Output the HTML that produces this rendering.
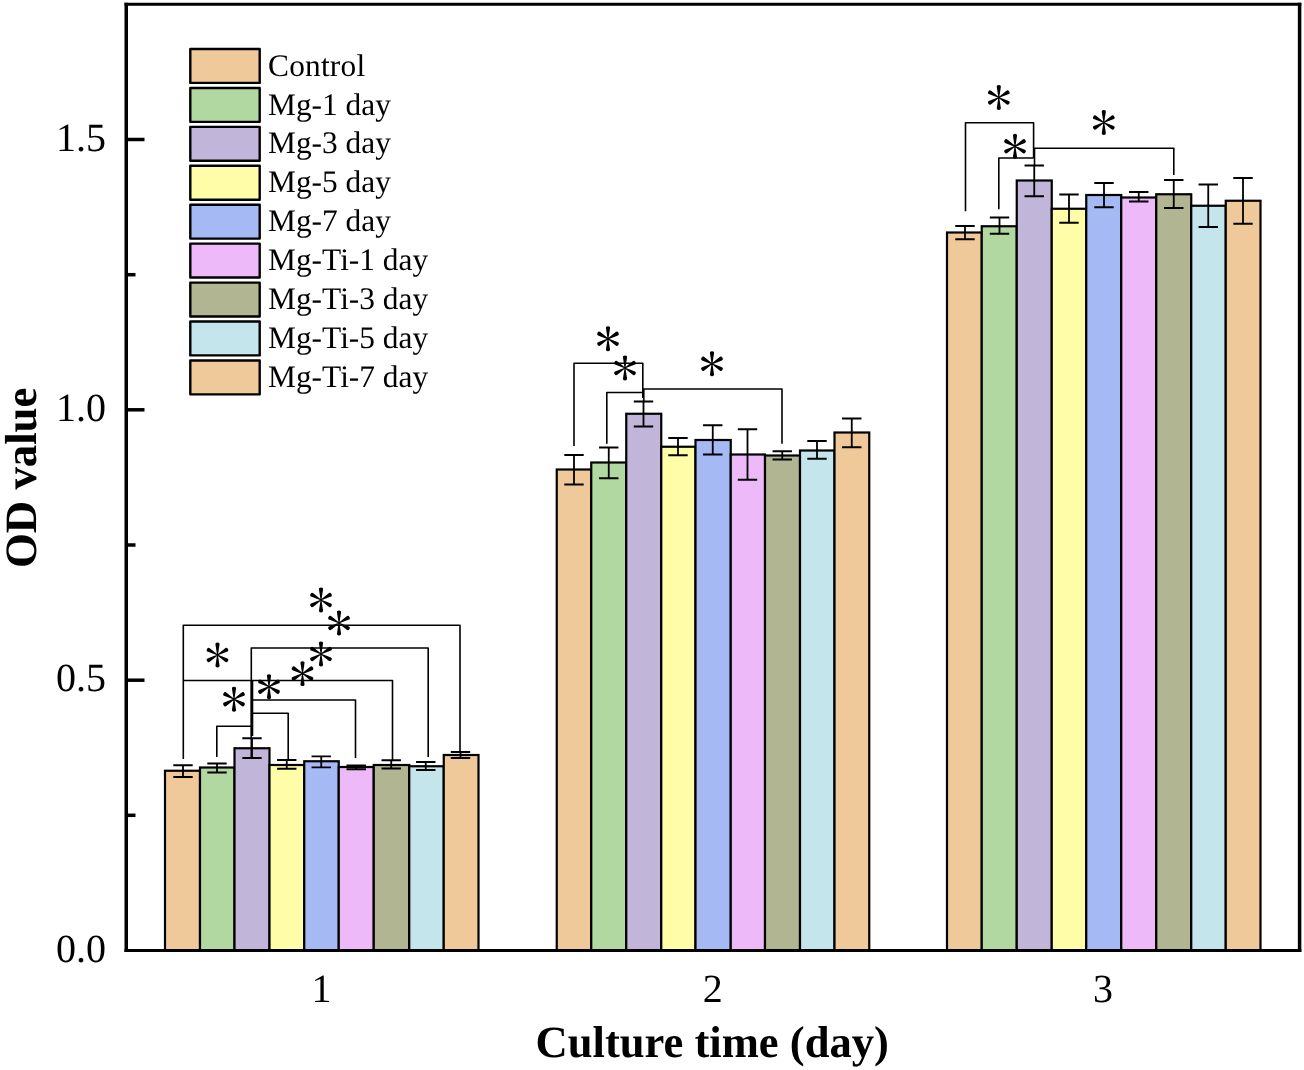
<!DOCTYPE html>
<html><head><meta charset="utf-8"><title>OD value chart</title>
<style>
html,body{margin:0;padding:0;background:#fff;}
body{width:1304px;height:1070px;overflow:hidden;font-family:"Liberation Serif",serif;}
svg{display:block;will-change:transform;}
text{font-family:"Liberation Serif",serif;fill:#000;text-rendering:geometricPrecision;}
.b{font-weight:bold;}
</style></head><body>
<svg width="1304" height="1070" viewBox="0 0 1304 1070">
<rect x="0" y="0" width="1304" height="1070" fill="#fff"/>
<g stroke="#000" stroke-width="2.2" stroke-linejoin="miter">
<rect x="165" y="770.75" width="35.00" height="179.75" fill="#F0C99A"/>
<rect x="200" y="767.5" width="34.50" height="183.00" fill="#B0D8A0"/>
<rect x="234.5" y="748.25" width="35.00" height="202.25" fill="#C1B5D9"/>
<rect x="269.5" y="765" width="34.75" height="185.50" fill="#FFFDA8"/>
<rect x="304.25" y="761.25" width="34.50" height="189.25" fill="#A5B9F4"/>
<rect x="338.75" y="767" width="35.00" height="183.50" fill="#EDB9F9"/>
<rect x="373.75" y="765" width="35.50" height="185.50" fill="#B1B592"/>
<rect x="409.25" y="766.25" width="34.50" height="184.25" fill="#C5E5EC"/>
<rect x="443.75" y="755" width="34.75" height="195.50" fill="#F0C99A"/>
<rect x="556.75" y="469.5" width="34.50" height="481.00" fill="#F0C99A"/>
<rect x="591.25" y="462.5" width="35.00" height="488.00" fill="#B0D8A0"/>
<rect x="626.25" y="413.75" width="35.00" height="536.75" fill="#C1B5D9"/>
<rect x="661.25" y="446.75" width="34.25" height="503.75" fill="#FFFDA8"/>
<rect x="695.5" y="440" width="35.25" height="510.50" fill="#A5B9F4"/>
<rect x="730.75" y="454.5" width="34.25" height="496.00" fill="#EDB9F9"/>
<rect x="765" y="455.5" width="35.00" height="495.00" fill="#B1B592"/>
<rect x="800" y="450.5" width="34.50" height="500.00" fill="#C5E5EC"/>
<rect x="834.5" y="432.5" width="34.75" height="518.00" fill="#F0C99A"/>
<rect x="947" y="232.5" width="34.75" height="718.00" fill="#F0C99A"/>
<rect x="981.75" y="226.25" width="35.00" height="724.25" fill="#B0D8A0"/>
<rect x="1016.75" y="180.5" width="35.00" height="770.00" fill="#C1B5D9"/>
<rect x="1051.75" y="208.75" width="34.50" height="741.75" fill="#FFFDA8"/>
<rect x="1086.25" y="195" width="35.00" height="755.50" fill="#A5B9F4"/>
<rect x="1121.25" y="197.5" width="35.00" height="753.00" fill="#EDB9F9"/>
<rect x="1156.25" y="194.25" width="35.00" height="756.25" fill="#B1B592"/>
<rect x="1191.25" y="205.75" width="34.50" height="744.75" fill="#C5E5EC"/>
<rect x="1225.75" y="200.75" width="34.75" height="749.75" fill="#F0C99A"/>
</g>
<g stroke="#000" stroke-width="1.8" fill="none">
<path d="M183 765.25V777M173.3 765.25H192.7M173.3 777H192.7"/>
<path d="M217 763.5V772.5M207.3 763.5H226.7M207.3 772.5H226.7"/>
<path d="M252 738.25V758M242.3 738.25H261.7M242.3 758H261.7"/>
<path d="M286.75 760V768.75M277.05 760H296.45M277.05 768.75H296.45"/>
<path d="M321.25 756.3V767.3M311.55 756.3H330.95M311.55 767.3H330.95"/>
<path d="M356.25 765.5V769.25M346.55 765.5H365.95M346.55 769.25H365.95"/>
<path d="M391.25 760.25V768.5M381.55 760.25H400.95M381.55 768.5H400.95"/>
<path d="M425.75 762V770M416.05 762H435.45M416.05 770H435.45"/>
<path d="M460.5 752V758M450.8 752H470.2M450.8 758H470.2"/>
<path d="M574 455V484.5M564.3 455H583.7M564.3 484.5H583.7"/>
<path d="M608.75 447.5V478.25M599.05 447.5H618.45M599.05 478.25H618.45"/>
<path d="M643.5 401.5V426.5M633.8 401.5H653.2M633.8 426.5H653.2"/>
<path d="M678 438V455.25M668.3 438H687.7M668.3 455.25H687.7"/>
<path d="M712.75 425.25V454.5M703.05 425.25H722.45M703.05 454.5H722.45"/>
<path d="M747.5 429.25V479.75M737.8 429.25H757.2M737.8 479.75H757.2"/>
<path d="M782.25 451.25V459.5M772.55 451.25H791.95M772.55 459.5H791.95"/>
<path d="M817 441V458.75M807.3 441H826.7M807.3 458.75H826.7"/>
<path d="M851.75 418.5V447.25M842.05 418.5H861.45M842.05 447.25H861.45"/>
<path d="M965 226V239.25M955.3 226H974.7M955.3 239.25H974.7"/>
<path d="M999.5 217.5V233.75M989.8 217.5H1009.2M989.8 233.75H1009.2"/>
<path d="M1034.25 165.5V196.25M1024.55 165.5H1043.95M1024.55 196.25H1043.95"/>
<path d="M1069 194.5V222.75M1059.3 194.5H1078.7M1059.3 222.75H1078.7"/>
<path d="M1104 183V207.25M1094.3 183H1113.7M1094.3 207.25H1113.7"/>
<path d="M1138.75 192V201.5M1129.05 192H1148.45M1129.05 201.5H1148.45"/>
<path d="M1173.75 180V208M1164.05 180H1183.45M1164.05 208H1183.45"/>
<path d="M1208.25 184.5V227M1198.55 184.5H1217.95M1198.55 227H1217.95"/>
<path d="M1243 178V223.75M1233.3 178H1252.7M1233.3 223.75H1252.7"/>
</g>
<g stroke="#000" stroke-width="1.6" fill="none" stroke-linejoin="round">
<path d="M183.3 759V625.3H460V752"/>
<path d="M183.3 680.5H392.5V760"/>
<path d="M251.3 759V648H428.2V757"/>
<path d="M251.3 700H355.5V758"/>
<path d="M251.3 713.3H288.2V760"/>
<path d="M216.8 757V726.2H251.3"/>
<path d="M574 446V363.3H642.8V398"/>
<path d="M606.8 443.8V392.5H643"/>
<path d="M643.8 401V389H782V443.8"/>
<path d="M965.5 211.3V122.8H1033.6V158"/>
<path d="M998.8 209.3V158H1033.6"/>
<path d="M1034.5 165V148.3H1173.8V175"/>
</g>
<path d="M252 680V736" stroke="#000" stroke-width="2.6" fill="none"/>
<g fill="#000" stroke="none">
<path transform="translate(321 600)" d="M-0.35 0.60L-1.96 -10.05A2.0 2.0 0 1 1 1.96 -10.05L0.35 0.60ZM0.35 -0.60L1.96 10.05A2.0 2.0 0 1 1 -1.96 10.05L-0.35 -0.60ZM-0.69 -0.00L7.38 -6.52A2.0 2.0 0 1 1 9.34 -3.13L-0.34 0.60ZM-0.34 -0.60L9.34 3.13A2.0 2.0 0 1 1 7.38 6.52L-0.69 0.00ZM0.69 0.00L-7.38 6.52A2.0 2.0 0 1 1 -9.34 3.13L0.34 -0.60ZM0.34 0.60L-9.34 -3.13A2.0 2.0 0 1 1 -7.38 -6.52L0.69 -0.00Z"/>
<path transform="translate(339 623)" d="M-0.35 0.60L-1.96 -10.05A2.0 2.0 0 1 1 1.96 -10.05L0.35 0.60ZM0.35 -0.60L1.96 10.05A2.0 2.0 0 1 1 -1.96 10.05L-0.35 -0.60ZM-0.69 -0.00L7.38 -6.52A2.0 2.0 0 1 1 9.34 -3.13L-0.34 0.60ZM-0.34 -0.60L9.34 3.13A2.0 2.0 0 1 1 7.38 6.52L-0.69 0.00ZM0.69 0.00L-7.38 6.52A2.0 2.0 0 1 1 -9.34 3.13L0.34 -0.60ZM0.34 0.60L-9.34 -3.13A2.0 2.0 0 1 1 -7.38 -6.52L0.69 -0.00Z"/>
<path transform="translate(217.5 655)" d="M-0.35 0.60L-1.96 -10.05A2.0 2.0 0 1 1 1.96 -10.05L0.35 0.60ZM0.35 -0.60L1.96 10.05A2.0 2.0 0 1 1 -1.96 10.05L-0.35 -0.60ZM-0.69 -0.00L7.38 -6.52A2.0 2.0 0 1 1 9.34 -3.13L-0.34 0.60ZM-0.34 -0.60L9.34 3.13A2.0 2.0 0 1 1 7.38 6.52L-0.69 0.00ZM0.69 0.00L-7.38 6.52A2.0 2.0 0 1 1 -9.34 3.13L0.34 -0.60ZM0.34 0.60L-9.34 -3.13A2.0 2.0 0 1 1 -7.38 -6.52L0.69 -0.00Z"/>
<path transform="translate(321 654)" d="M-0.35 0.60L-1.96 -10.05A2.0 2.0 0 1 1 1.96 -10.05L0.35 0.60ZM0.35 -0.60L1.96 10.05A2.0 2.0 0 1 1 -1.96 10.05L-0.35 -0.60ZM-0.69 -0.00L7.38 -6.52A2.0 2.0 0 1 1 9.34 -3.13L-0.34 0.60ZM-0.34 -0.60L9.34 3.13A2.0 2.0 0 1 1 7.38 6.52L-0.69 0.00ZM0.69 0.00L-7.38 6.52A2.0 2.0 0 1 1 -9.34 3.13L0.34 -0.60ZM0.34 0.60L-9.34 -3.13A2.0 2.0 0 1 1 -7.38 -6.52L0.69 -0.00Z"/>
<path transform="translate(302.5 673.6)" d="M-0.35 0.60L-1.96 -10.05A2.0 2.0 0 1 1 1.96 -10.05L0.35 0.60ZM0.35 -0.60L1.96 10.05A2.0 2.0 0 1 1 -1.96 10.05L-0.35 -0.60ZM-0.69 -0.00L7.38 -6.52A2.0 2.0 0 1 1 9.34 -3.13L-0.34 0.60ZM-0.34 -0.60L9.34 3.13A2.0 2.0 0 1 1 7.38 6.52L-0.69 0.00ZM0.69 0.00L-7.38 6.52A2.0 2.0 0 1 1 -9.34 3.13L0.34 -0.60ZM0.34 0.60L-9.34 -3.13A2.0 2.0 0 1 1 -7.38 -6.52L0.69 -0.00Z"/>
<path transform="translate(269 686.7)" d="M-0.35 0.60L-1.96 -10.05A2.0 2.0 0 1 1 1.96 -10.05L0.35 0.60ZM0.35 -0.60L1.96 10.05A2.0 2.0 0 1 1 -1.96 10.05L-0.35 -0.60ZM-0.69 -0.00L7.38 -6.52A2.0 2.0 0 1 1 9.34 -3.13L-0.34 0.60ZM-0.34 -0.60L9.34 3.13A2.0 2.0 0 1 1 7.38 6.52L-0.69 0.00ZM0.69 0.00L-7.38 6.52A2.0 2.0 0 1 1 -9.34 3.13L0.34 -0.60ZM0.34 0.60L-9.34 -3.13A2.0 2.0 0 1 1 -7.38 -6.52L0.69 -0.00Z"/>
<path transform="translate(234 699.2)" d="M-0.35 0.60L-1.96 -10.05A2.0 2.0 0 1 1 1.96 -10.05L0.35 0.60ZM0.35 -0.60L1.96 10.05A2.0 2.0 0 1 1 -1.96 10.05L-0.35 -0.60ZM-0.69 -0.00L7.38 -6.52A2.0 2.0 0 1 1 9.34 -3.13L-0.34 0.60ZM-0.34 -0.60L9.34 3.13A2.0 2.0 0 1 1 7.38 6.52L-0.69 0.00ZM0.69 0.00L-7.38 6.52A2.0 2.0 0 1 1 -9.34 3.13L0.34 -0.60ZM0.34 0.60L-9.34 -3.13A2.0 2.0 0 1 1 -7.38 -6.52L0.69 -0.00Z"/>
<path transform="translate(608 338.8)" d="M-0.35 0.60L-1.96 -10.05A2.0 2.0 0 1 1 1.96 -10.05L0.35 0.60ZM0.35 -0.60L1.96 10.05A2.0 2.0 0 1 1 -1.96 10.05L-0.35 -0.60ZM-0.69 -0.00L7.38 -6.52A2.0 2.0 0 1 1 9.34 -3.13L-0.34 0.60ZM-0.34 -0.60L9.34 3.13A2.0 2.0 0 1 1 7.38 6.52L-0.69 0.00ZM0.69 0.00L-7.38 6.52A2.0 2.0 0 1 1 -9.34 3.13L0.34 -0.60ZM0.34 0.60L-9.34 -3.13A2.0 2.0 0 1 1 -7.38 -6.52L0.69 -0.00Z"/>
<path transform="translate(625 368)" d="M-0.35 0.60L-1.96 -10.05A2.0 2.0 0 1 1 1.96 -10.05L0.35 0.60ZM0.35 -0.60L1.96 10.05A2.0 2.0 0 1 1 -1.96 10.05L-0.35 -0.60ZM-0.69 -0.00L7.38 -6.52A2.0 2.0 0 1 1 9.34 -3.13L-0.34 0.60ZM-0.34 -0.60L9.34 3.13A2.0 2.0 0 1 1 7.38 6.52L-0.69 0.00ZM0.69 0.00L-7.38 6.52A2.0 2.0 0 1 1 -9.34 3.13L0.34 -0.60ZM0.34 0.60L-9.34 -3.13A2.0 2.0 0 1 1 -7.38 -6.52L0.69 -0.00Z"/>
<path transform="translate(712 363.8)" d="M-0.35 0.60L-1.96 -10.05A2.0 2.0 0 1 1 1.96 -10.05L0.35 0.60ZM0.35 -0.60L1.96 10.05A2.0 2.0 0 1 1 -1.96 10.05L-0.35 -0.60ZM-0.69 -0.00L7.38 -6.52A2.0 2.0 0 1 1 9.34 -3.13L-0.34 0.60ZM-0.34 -0.60L9.34 3.13A2.0 2.0 0 1 1 7.38 6.52L-0.69 0.00ZM0.69 0.00L-7.38 6.52A2.0 2.0 0 1 1 -9.34 3.13L0.34 -0.60ZM0.34 0.60L-9.34 -3.13A2.0 2.0 0 1 1 -7.38 -6.52L0.69 -0.00Z"/>
<path transform="translate(998.8 97.5)" d="M-0.35 0.60L-1.96 -10.05A2.0 2.0 0 1 1 1.96 -10.05L0.35 0.60ZM0.35 -0.60L1.96 10.05A2.0 2.0 0 1 1 -1.96 10.05L-0.35 -0.60ZM-0.69 -0.00L7.38 -6.52A2.0 2.0 0 1 1 9.34 -3.13L-0.34 0.60ZM-0.34 -0.60L9.34 3.13A2.0 2.0 0 1 1 7.38 6.52L-0.69 0.00ZM0.69 0.00L-7.38 6.52A2.0 2.0 0 1 1 -9.34 3.13L0.34 -0.60ZM0.34 0.60L-9.34 -3.13A2.0 2.0 0 1 1 -7.38 -6.52L0.69 -0.00Z"/>
<path transform="translate(1015 146.3)" d="M-0.35 0.60L-1.96 -10.05A2.0 2.0 0 1 1 1.96 -10.05L0.35 0.60ZM0.35 -0.60L1.96 10.05A2.0 2.0 0 1 1 -1.96 10.05L-0.35 -0.60ZM-0.69 -0.00L7.38 -6.52A2.0 2.0 0 1 1 9.34 -3.13L-0.34 0.60ZM-0.34 -0.60L9.34 3.13A2.0 2.0 0 1 1 7.38 6.52L-0.69 0.00ZM0.69 0.00L-7.38 6.52A2.0 2.0 0 1 1 -9.34 3.13L0.34 -0.60ZM0.34 0.60L-9.34 -3.13A2.0 2.0 0 1 1 -7.38 -6.52L0.69 -0.00Z"/>
<path transform="translate(1103.8 122.5)" d="M-0.35 0.60L-1.96 -10.05A2.0 2.0 0 1 1 1.96 -10.05L0.35 0.60ZM0.35 -0.60L1.96 10.05A2.0 2.0 0 1 1 -1.96 10.05L-0.35 -0.60ZM-0.69 -0.00L7.38 -6.52A2.0 2.0 0 1 1 9.34 -3.13L-0.34 0.60ZM-0.34 -0.60L9.34 3.13A2.0 2.0 0 1 1 7.38 6.52L-0.69 0.00ZM0.69 0.00L-7.38 6.52A2.0 2.0 0 1 1 -9.34 3.13L0.34 -0.60ZM0.34 0.60L-9.34 -3.13A2.0 2.0 0 1 1 -7.38 -6.52L0.69 -0.00Z"/>
</g>
<g stroke="#000" fill="none" stroke-linecap="butt">
<path d="M124.5 4.2H1301.3M124.5 950.5H1301.3" stroke-width="3.0"/>
<path d="M126.25 2.7V952M1299.6 2.7V952" stroke-width="3.5"/>
</g>
<g stroke="#000" stroke-width="3.5">
<path d="M126.3 680.2H144.5"/>
<path d="M126.3 409.8H144.5"/>
<path d="M126.3 139.5H144.5"/>
<path d="M126.3 815.3H135.5"/>
<path d="M126.3 545.0H135.5"/>
<path d="M126.3 274.7H135.5"/>
</g>
<g font-size="40" text-anchor="end">
<text transform="translate(106 961.5)">0.0</text>
<text transform="translate(106 691.2)">0.5</text>
<text transform="translate(106 420.8)">1.0</text>
<text transform="translate(106 150.5)">1.5</text>
</g>
<g font-size="40" text-anchor="middle">
<text transform="translate(321.5 1002)">1</text>
<text transform="translate(712.7 1002)">2</text>
<text transform="translate(1103.0 1002)">3</text>
</g>
<text class="b" x="712.2" y="1056.8" font-size="44.6" text-anchor="middle">Culture time (day)</text>
<text class="b" transform="translate(36 477.8) rotate(-90)" font-size="44.8" text-anchor="middle">OD value</text>
<g stroke="#000" stroke-width="2.4" stroke-linejoin="round">
<rect x="190.3" y="49.00" width="69.4" height="33.9" fill="#F0C99A"/>
<rect x="190.3" y="87.93" width="69.4" height="33.9" fill="#B0D8A0"/>
<rect x="190.3" y="126.86" width="69.4" height="33.9" fill="#C1B5D9"/>
<rect x="190.3" y="165.79" width="69.4" height="33.9" fill="#FFFDA8"/>
<rect x="190.3" y="204.72" width="69.4" height="33.9" fill="#A5B9F4"/>
<rect x="190.3" y="243.65" width="69.4" height="33.9" fill="#EDB9F9"/>
<rect x="190.3" y="282.58" width="69.4" height="33.9" fill="#B1B592"/>
<rect x="190.3" y="321.51" width="69.4" height="33.9" fill="#C5E5EC"/>
<rect x="190.3" y="360.44" width="69.4" height="33.9" fill="#F0C99A"/>
</g>
<g font-size="31.4">
<text x="268" y="75.60" letter-spacing="0.2">Control</text>
<text x="268" y="114.53">Mg-1 day</text>
<text x="268" y="153.46">Mg-3 day</text>
<text x="268" y="192.39">Mg-5 day</text>
<text x="268" y="231.32">Mg-7 day</text>
<text x="268" y="270.25">Mg-Ti-1 day</text>
<text x="268" y="309.18">Mg-Ti-3 day</text>
<text x="268" y="348.11">Mg-Ti-5 day</text>
<text x="268" y="387.04">Mg-Ti-7 day</text>
</g>
</svg>
</body></html>
